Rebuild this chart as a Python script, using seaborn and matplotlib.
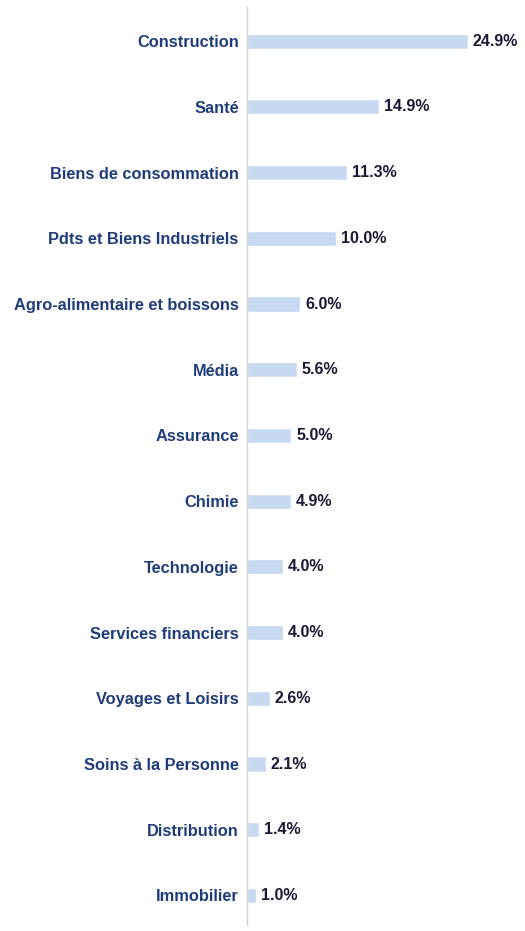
import matplotlib
matplotlib.use("Agg")
import matplotlib.pyplot as plt
import seaborn as sns
import pandas as pd

categories = ["Construction", "Santé", "Biens de consommation", "Pdts et Biens Industriels",
              "Agro-alimentaire et boissons", "Média", "Assurance", "Chimie", "Technologie",
              "Services financiers", "Voyages et Loisirs", "Soins à la Personne",
              "Distribution", "Immobilier"]
values = [24.9, 14.9, 11.3, 10.0, 6.0, 5.6, 5.0, 4.9, 4.0, 4.0, 2.6, 2.1, 1.4, 1.0]
value_labels = ["24.9%", "14.9%", "11.3%", "10.0%", "6.0%", "5.6%", "5.0%", "4.9%",
                "4.0%", "4.0%", "2.6%", "2.1%", "1.4%", "1.0%"]

df = pd.DataFrame({"cat": categories, "val": values})

sns.set_theme(style="white")
plt.rcParams['font.family'] = ['Liberation Sans', 'DejaVu Sans']

fig = plt.figure(figsize=(5.25, 9.31), dpi=100)
ax = fig.add_axes([247/525, 1 - 925/931, 1 - 247/525, (925 - 7)/931])

sns.barplot(data=df, x="val", y="cat", orient="h", color="#c6d9f1", width=0.23,
            saturation=1, ax=ax)

ax.set_xlim(0, (525 - 247) / 8.88)
ax.set_ylim(13.45, -0.52)
ax.set_xlabel("")
ax.set_ylabel("")
ax.set_xticks([])
for s in ["top", "right", "bottom"]:
    ax.spines[s].set_visible(False)
ax.spines["left"].set_color("#d0d0d0")
ax.spines["left"].set_linewidth(1.0)
ax.tick_params(axis="y", length=0, pad=6)
for lab in ax.get_yticklabels():
    lab.set_fontsize(11.8)
    lab.set_fontweight("bold")
    lab.set_color("#1f3d7a")

for i, (v, t) in enumerate(zip(values, value_labels)):
    ax.annotate(t, xy=(v, i), xytext=(3.5, 0), textcoords="offset points",
                va="center", ha="left", fontsize=11.5, fontweight="bold", color="#1a1a36")

fig.savefig("out.png", dpi=100, facecolor="white")
